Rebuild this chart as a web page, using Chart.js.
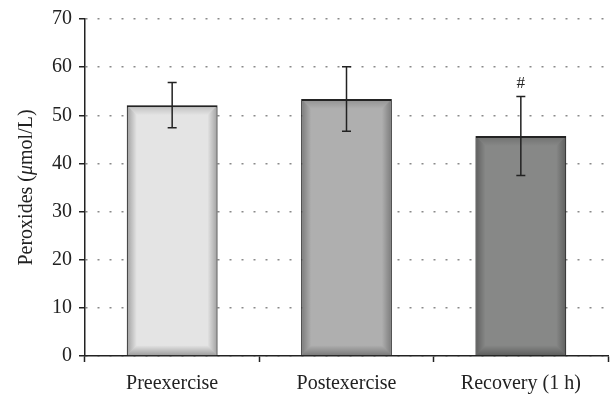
<!DOCTYPE html>
<html>
<head>
<meta charset="utf-8">
<script src="https://cdn.jsdelivr.net/npm/chart.js@4.4.0/dist/chart.umd.min.js"></script>
<style>
    html, body { margin: 0; padding: 0; background: #fff; }
    #wrap { width: 612px; height: 394px; position: relative; }
</style>
</head>
<body>
<div id="wrap"><canvas id="peroxChart"></canvas></div>
<script>
// Data
const categories = ['Preexercise', 'Postexercise', 'Recovery (1 h)'];
const means = [52.1, 53.4, 45.7];
const errors = [4.7, 6.7, 8.2];
const marks = ['', '', '#'];
const barColors = ['#e4e4e4', '#afafaf', '#878887'];
const yTicks = [0, 10, 20, 30, 40, 50, 60, 70];
const yTitleParts = [['Peroxides (', 'normal'], ['μ', 'italic'], ['mol/L)', 'normal']];

const serif = "'Liberation Serif', 'DejaVu Serif', serif";
Chart.defaults.font.family = serif;
Chart.defaults.color = '#222';

// Bevelled edges on each bar, like the original graphic
const bevelPlugin = {
    id: 'bevel',
    afterDatasetsDraw(chart) {
        const ctx = chart.ctx;
        const meta = chart.getDatasetMeta(0);
        meta.data.forEach(function (bar) {
            const p = bar.getProps(['x', 'y', 'base', 'width'], true);
            const l = p.x - p.width / 2, r = p.x + p.width / 2;
            const t = p.y, b = p.base;
            const d = 10;
            ctx.save();
            function side(pts, gx0, gy0, gx1, gy1, a) {
                const g = ctx.createLinearGradient(gx0, gy0, gx1, gy1);
                g.addColorStop(0, 'rgba(0,0,0,' + a + ')');
                g.addColorStop(1, 'rgba(0,0,0,0)');
                ctx.fillStyle = g;
                ctx.beginPath();
                ctx.moveTo(pts[0][0], pts[0][1]);
                for (let i = 1; i < pts.length; i++) ctx.lineTo(pts[i][0], pts[i][1]);
                ctx.closePath();
                ctx.fill();
            }
            side([[l, t], [l + d, t + d], [l + d, b - d], [l, b]], l, 0, l + d, 0, 0.3);
            side([[r, t], [r - d, t + d], [r - d, b - d], [r, b]], r, 0, r - d, 0, 0.3);
            side([[l, t], [r, t], [r - d, t + d], [l + d, t + d]], 0, t, 0, t + d, 0.18);
            side([[l, b], [r, b], [r - d, b - d], [l + d, b - d]], 0, b, 0, b - d, 0.3);
            ctx.restore();
        });
    }
};

// Error bars and significance marks
const errorBarPlugin = {
    id: 'errorBars',
    afterDatasetsDraw(chart) {
        const ctx = chart.ctx;
        const yScale = chart.scales.y;
        const meta = chart.getDatasetMeta(0);
        ctx.save();
        ctx.strokeStyle = '#222';
        ctx.lineWidth = 1.5;
        meta.data.forEach(function (bar, i) {
            const x = bar.x;
            const yTop = yScale.getPixelForValue(means[i] + errors[i]);
            const yBot = yScale.getPixelForValue(means[i] - errors[i]);
            ctx.beginPath();
            ctx.moveTo(x, yTop); ctx.lineTo(x, yBot);
            ctx.moveTo(x - 4.5, yTop); ctx.lineTo(x + 4.5, yTop);
            ctx.moveTo(x - 4.5, yBot); ctx.lineTo(x + 4.5, yBot);
            ctx.stroke();
            if (marks[i]) {
                ctx.fillStyle = '#222';
                ctx.font = '17px ' + serif;
                ctx.textAlign = 'center';
                ctx.textBaseline = 'middle';
                ctx.fillText(marks[i], x, yTop - 13);
            }
        });
        ctx.restore();
    }
};

// Y title with an italic mu
const yTitlePlugin = {
    id: 'yTitle',
    afterDraw(chart) {
        const ctx = chart.ctx;
        const area = chart.chartArea;
        const size = 20;
        ctx.save();
        let total = 0;
        yTitleParts.forEach(function (part) {
            ctx.font = part[1] + ' ' + size + 'px ' + serif;
            total += ctx.measureText(part[0]).width;
        });
        ctx.translate(27, (area.top + area.bottom) / 2);
        ctx.rotate(-Math.PI / 2);
        ctx.fillStyle = '#222';
        ctx.textBaseline = 'middle';
        ctx.textAlign = 'left';
        let x = -total / 2;
        yTitleParts.forEach(function (part) {
            ctx.font = part[1] + ' ' + size + 'px ' + serif;
            ctx.fillText(part[0], x, 0);
            x += ctx.measureText(part[0]).width;
        });
        ctx.restore();
    }
};

const ctx = document.getElementById('peroxChart').getContext('2d');
new Chart(ctx, {
    type: 'bar',
    data: {
        labels: categories,
        datasets: [{
            data: means,
            backgroundColor: barColors,
            borderColor: '#2a2a2a',
            borderWidth: { top: 2, left: 1, right: 1, bottom: 0 },
            borderSkipped: false,
            barPercentage: 0.52,
            categoryPercentage: 1
        }]
    },
    options: {
        responsive: true,
        maintainAspectRatio: false,
        animation: false,
        layout: { padding: { top: 17, right: 4, left: 0, bottom: 0 } },
        plugins: {
            legend: { display: false },
            tooltip: { enabled: false }
        },
        scales: {
            x: {
                offset: true,
                afterFit(scale) { scale.height = 38; },
                grid: {
                    offset: true,
                    drawOnChartArea: false,
                    drawTicks: true,
                    tickLength: 6,
                    tickColor: '#222',
                    tickWidth: 1.5
                },
                border: { display: true, color: '#222', width: 1.5 },
                ticks: { padding: 10, font: { size: 20 }, color: '#222' }
            },
            y: {
                min: 0,
                max: 70,
                afterBuildTicks(scale) {
                    scale.ticks = yTicks.map(v => ({ value: v }));
                },
                afterFit(scale) { scale.width = 85; },
                grid: {
                    color: '#8a8a8a',
                    lineWidth: 1.5,
                    drawTicks: true,
                    tickLength: 6,
                    tickColor: '#222',
                    tickWidth: 1.5
                },
                border: { display: true, color: '#222', width: 1.5, dash: [2, 10] },
                ticks: { padding: 7, font: { size: 20 }, color: '#222' }
            }
        }
    },
    plugins: [bevelPlugin, errorBarPlugin, yTitlePlugin]
});
</script>
</body>
</html>
